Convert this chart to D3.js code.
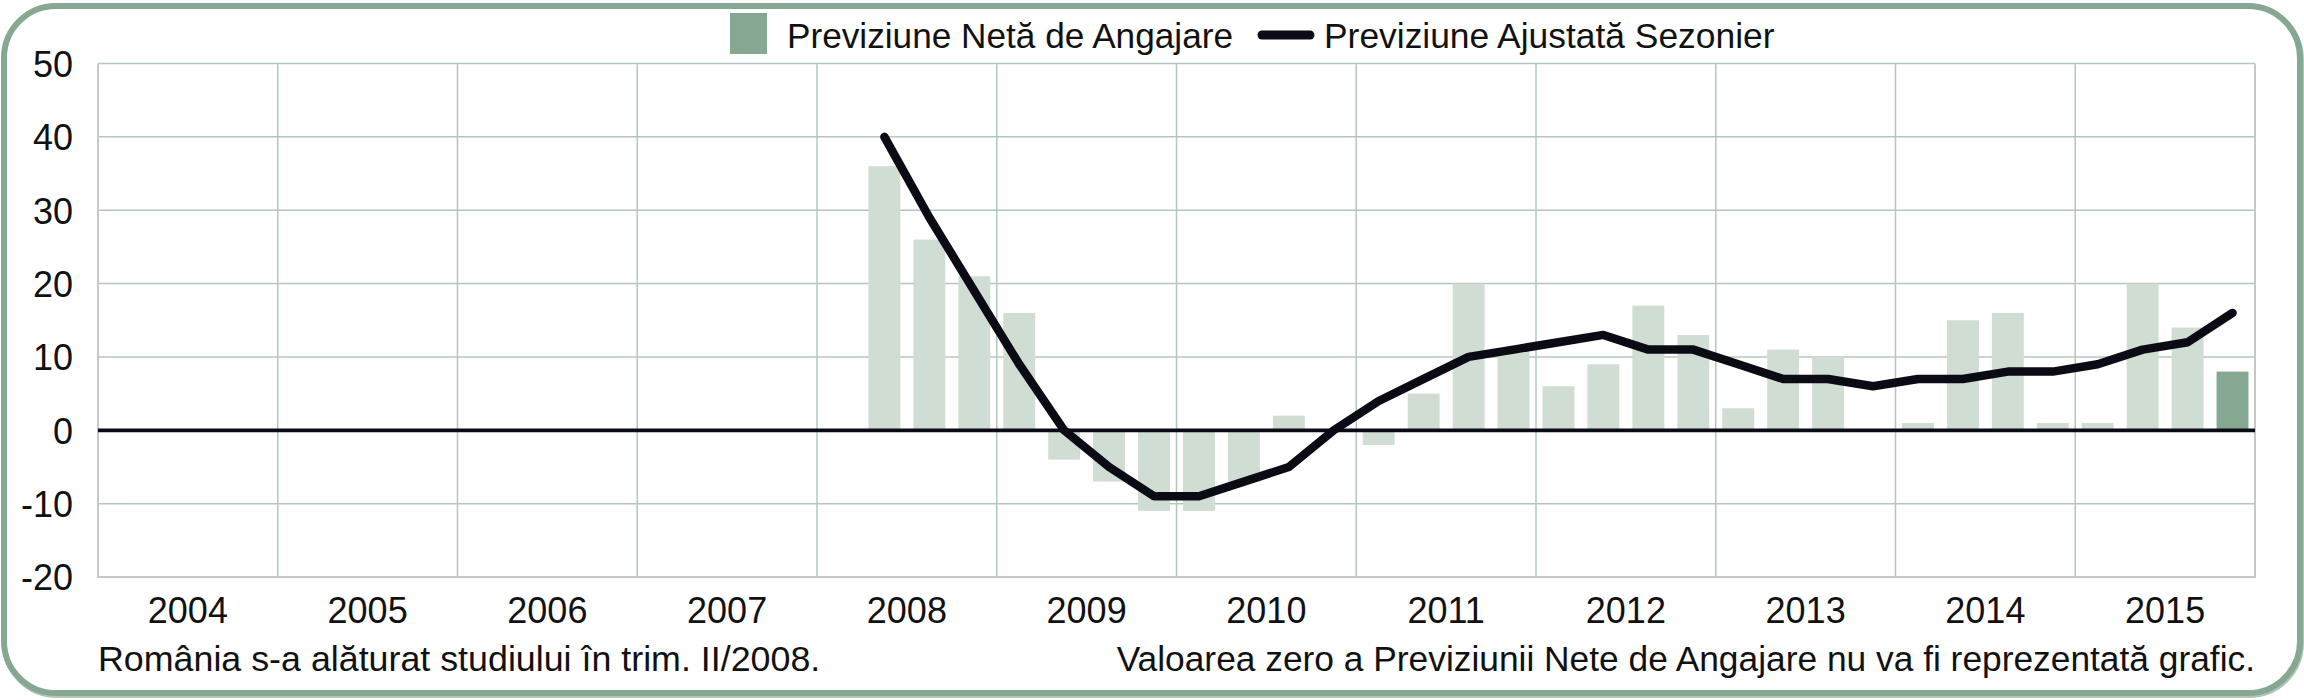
<!DOCTYPE html>
<html>
<head>
<meta charset="utf-8">
<script src="https://cdn.jsdelivr.net/npm/d3@7/dist/d3.min.js"></script>
<style>
  html, body { margin: 0; padding: 0; background: #ffffff; }
  svg { display: block; }
  text { font-family: "Liberation Sans", Arial, Helvetica, sans-serif; fill: #111; }
</style>
</head>
<body>
<svg id="chart" width="2304" height="700"></svg>
<script>
// ---------------- DATA ----------------
const years = ["2004","2005","2006","2007","2008","2009","2010","2011","2012","2013","2014","2015"];
const quarterNames = ["T1","T2","T3","T4"];
const yTicks = [-20, -10, 0, 10, 20, 30, 40, 50];
const firstDataQuarter = "T2/2008";
// Previziune Netă de Angajare (T2/2008 .. T4/2015)
const netOutlook = [36, 26, 21, 16, -4, -7, -11, -11, -7, 2, 0, -2, 5, 20, 11, 6, 9, 17, 13, 3, 11, 10, 0, 1, 15, 16, 1, 1, 20, 14, 8];
// Previziune Ajustată Sezonier (T2/2008 .. T4/2015)
const seasonAdjusted = [40, 29, 19, 9, 0, -5, -9, -9, -7, -5, 0, 4, 7, 10, 11, 12, 13, 11, 11, 9, 7, 7, 6, 7, 7, 8, 8, 9, 11, 12, 16];
const legendLabels = ["Previziune Netă de Angajare", "Previziune Ajustată Sezonier"];
const noteLeft = "România s-a alăturat studiului în trim. II/2008.";
const noteRight = "Valoarea zero a Previziunii Nete de Angajare nu va fi reprezentată grafic.";

// ---------------- BUILD ----------------
const quarters = years.flatMap(yr => quarterNames.map(q => q + "/" + yr));
const startIdx = quarters.indexOf(firstDataQuarter);
const rows = netOutlook.map((v, i) => ({ q: quarters[startIdx + i], net: v, adj: seasonAdjusted[i], last: i === netOutlook.length - 1 }));

const W = 2304, H = 700;
const pLeft = 98, pRight = 2255, pTop = 63.5, pBottom = 577;

const svg = d3.select("#chart");

// Frame (with a soft lower shade)
svg.append("rect")
  .attr("x", 5).attr("y", 8).attr("width", W - 8).attr("height", H - 13)
  .attr("rx", 52).attr("ry", 52)
  .attr("fill", "none").attr("stroke", "#7d9d88").attr("stroke-width", 6).attr("opacity", 0.6);
svg.append("rect")
  .attr("x", 4).attr("y", 6).attr("width", W - 8).attr("height", H - 13)
  .attr("rx", 52).attr("ry", 52)
  .attr("fill", "#ffffff").attr("stroke", "#86a891").attr("stroke-width", 6);

const x = d3.scaleBand().domain(quarters).range([pLeft, pRight]).paddingInner(0.29).paddingOuter(0.145);
const xYear = d3.scaleBand().domain(years).range([pLeft, pRight]).padding(0);
const y = d3.scaleLinear().domain([-20, 50]).range([pBottom, pTop]);

// Horizontal gridlines
svg.append("g").selectAll("line").data(yTicks.filter(t => t !== -20 && t !== 0)).join("line")
  .attr("x1", pLeft).attr("x2", pRight)
  .attr("y1", d => y(d)).attr("y2", d => y(d))
  .attr("stroke", "#b3c8bc").attr("stroke-width", 1.5);

// Vertical gridlines at year boundaries
svg.append("g").selectAll("line").data(years.slice(1)).join("line")
  .attr("x1", d => xYear(d)).attr("x2", d => xYear(d))
  .attr("y1", pTop).attr("y2", pBottom)
  .attr("stroke", "#b3c8bc").attr("stroke-width", 1.5);

// Plot frame (left, right, bottom) in grey
svg.append("path")
  .attr("d", `M${pLeft},${pTop}V${pBottom}H${pRight}V${pTop}`)
  .attr("fill", "none").attr("stroke", "#c4c9c7").attr("stroke-width", 2);

// Bars (zero values not drawn)
svg.append("g").selectAll("rect").data(rows.filter(d => d.net !== 0)).join("rect")
  .attr("x", d => x(d.q))
  .attr("width", x.bandwidth())
  .attr("y", d => y(Math.max(0, d.net)))
  .attr("height", d => Math.abs(y(d.net) - y(0)))
  .attr("fill", d => d.last ? "#86a891" : "#cfddd2");

// Zero line
svg.append("line")
  .attr("x1", pLeft).attr("x2", pRight).attr("y1", y(0)).attr("y2", y(0))
  .attr("stroke", "#0b0b16").attr("stroke-width", 3.8);

// Seasonally adjusted line
const line = d3.line().x(d => x(d.q) + x.bandwidth() / 2).y(d => y(d.adj));
svg.append("path").datum(rows)
  .attr("d", line)
  .attr("fill", "none").attr("stroke", "#0b0b16").attr("stroke-width", 8.5)
  .attr("stroke-linejoin", "round").attr("stroke-linecap", "round");

// Y axis labels (hyphen minus as in the original)
const yAxis = d3.axisLeft(y).tickValues(yTicks).tickSize(0).tickPadding(0).tickFormat(d => String(d));
const gy = svg.append("g").attr("transform", `translate(73,0)`).call(yAxis);
gy.select(".domain").remove();
gy.selectAll("text").attr("font-size", 36).attr("fill", "#111")
  .attr("font-family", "'Liberation Sans', Arial, sans-serif").attr("dy", "0.36em");

// X axis year labels
const xAxis = d3.axisBottom(xYear).tickSize(0).tickPadding(0);
const gx = svg.append("g").attr("transform", `translate(0,610)`).call(xAxis);
gx.select(".domain").remove();
gx.selectAll("text").attr("font-size", 36).attr("fill", "#111")
  .attr("font-family", "'Liberation Sans', Arial, sans-serif").attr("dy", "0.36em");

// Legend
const lg = svg.append("g");
lg.append("rect").attr("x", 730).attr("y", 13).attr("width", 37).attr("height", 41).attr("fill", "#86a891");
lg.append("text").attr("x", 787).attr("y", 35).attr("dy", "0.36em").attr("font-size", 35.2).text(legendLabels[0]);
lg.append("line").attr("x1", 1262).attr("x2", 1310).attr("y1", 35).attr("y2", 35)
  .attr("stroke", "#0b0b16").attr("stroke-width", 9).attr("stroke-linecap", "round");
lg.append("text").attr("x", 1324).attr("y", 35).attr("dy", "0.36em").attr("font-size", 35.4).text(legendLabels[1]);

// Notes
svg.append("text").attr("x", pLeft).attr("y", 658).attr("dy", "0.36em").attr("font-size", 35.8).text(noteLeft);
svg.append("text").attr("x", pRight).attr("y", 658).attr("dy", "0.36em").attr("font-size", 35.35)
  .attr("text-anchor", "end").text(noteRight);
</script>
</body>
</html>
